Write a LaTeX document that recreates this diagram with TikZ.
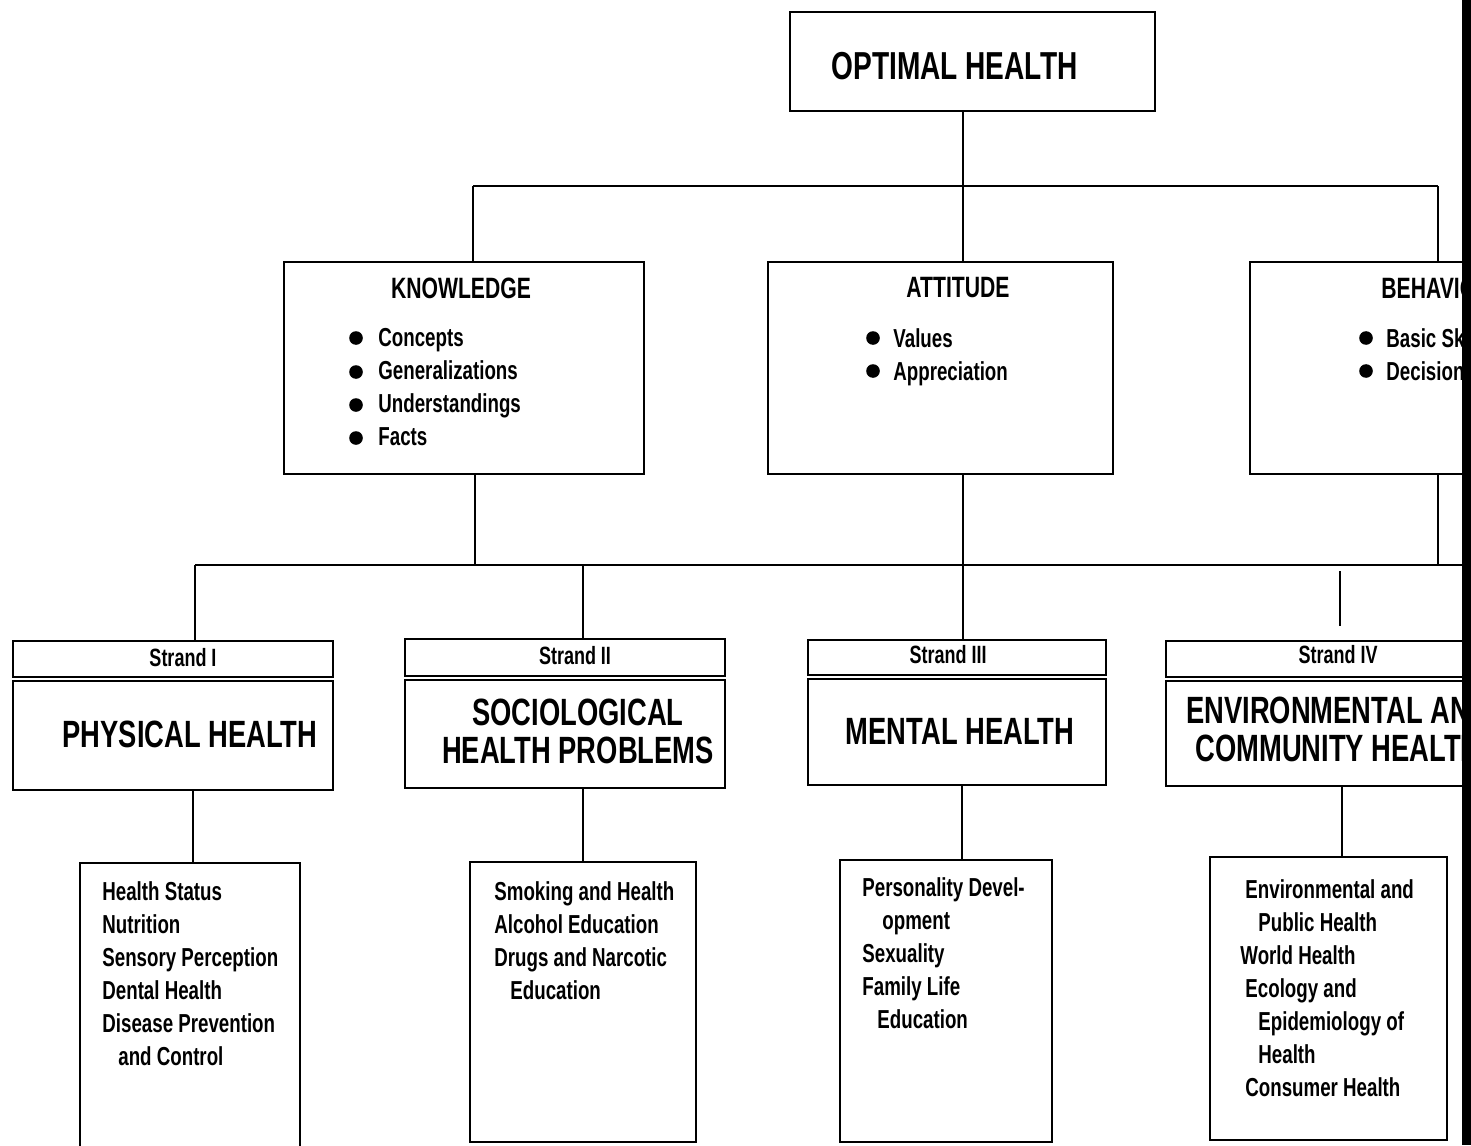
\documentclass[tikz,border=0pt]{standalone}
\usepackage{fontspec}
\setmainfont{Liberation Sans}[FakeStretch=0.72]
\begin{document}
\begin{tikzpicture}[x=0.5pt,y=-0.5pt,
  box/.style={draw, line width=1.4pt, inner sep=0pt},
  link/.style={line width=1.4pt},
  big/.style={inner sep=0pt, align=center, font=\fontsize{19}{19}\selectfont\bfseries},
  head/.style={inner sep=0pt, font=\fontsize{14.7}{16}\selectfont\bfseries},
  tiny/.style={inner sep=0pt, font=\fontsize{12.5}{14}\selectfont\bfseries},
  lst/.style={inner sep=0pt, anchor=north west, align=left, font=\fontsize{13}{16.5}\selectfont\bfseries},
  dot/.style={fill=black}]
\clip (0,0) rectangle (1471,1145);
\fill[white] (0,0) rectangle (1471,1145);
% boxes
\node[box, minimum width=182.5pt, minimum height=49.5pt] (opt) at (972.5,61.5) {};
\node[box, minimum width=180pt, minimum height=106pt] (know) at (464,368) {};
\node[box, minimum width=172.5pt, minimum height=106pt] (att) at (940.5,368) {};
\node[box, minimum width=172.5pt, minimum height=106pt] (beh) at (1422.5,368) {};
\node[box, minimum width=160pt, minimum height=18pt] (s1h) at (173,659) {};
\node[box, minimum width=160pt, minimum height=54.5pt] (s1b) at (173,735.5) {};
\node[box, minimum width=160pt, minimum height=18.5pt] (s2h) at (565,657.5) {};
\node[box, minimum width=160pt, minimum height=54pt] (s2b) at (565,734) {};
\node[box, minimum width=149pt, minimum height=17.5pt] (s3h) at (957,657.5) {};
\node[box, minimum width=149pt, minimum height=53pt] (s3b) at (957,732) {};
\node[box, minimum width=160pt, minimum height=18pt] (s4h) at (1326,659) {};
\node[box, minimum width=160pt, minimum height=52.5pt] (s4b) at (1326,733.5) {};
\node[box, minimum width=110pt, minimum height=148.5pt] (b1) at (190,1011.5) {};
\node[box, minimum width=113pt, minimum height=140pt] (b2) at (583,1002) {};
\node[box, minimum width=106pt, minimum height=141pt] (b3) at (946,1001) {};
\node[box, minimum width=118.5pt, minimum height=141.5pt] (b4) at (1328.5,998.5) {};
% connectors
\coordinate (vT) at (963,186);
\coordinate (vK) at (473,186);
\coordinate (vB) at (1438,186);
\draw[link] (opt.south -| vT) -- (att.north -| vT);
\draw[link] (vK) -- (vB);
\draw[link] (vK) -- (know.north -| vK);
\draw[link] (vB) -- (beh.north -| vB);
\coordinate (wK) at (475,565);
\coordinate (wL) at (195,565);
\coordinate (wR) at (1462,565);
\coordinate (wB) at (1438,565);
\coordinate (w2) at (583,565);
\coordinate (w3) at (963,565);
\draw[link] (know.south -| wK) -- (wK);
\draw[link] (wL) -- (wR);
\draw[link] (wL) -- (s1h.north -| wL);
\draw[link] (w2) -- (s2h.north -| w2);
\draw[link] (att.south -| w3) -- (s3h.north -| w3);
\draw[link] (beh.south -| wB) -- (wB);
\coordinate (w4) at (1340,571);
\coordinate (w4e) at (1340,626);
\draw[link] (w4) -- (w4e);
\coordinate (x1) at (193,0);
\coordinate (x2) at (583,0);
\coordinate (x3) at (962,0);
\coordinate (x4) at (1342,0);
\draw[link] (s1b.south -| x1) -- (b1.north -| x1);
\draw[link] (s2b.south -| x2) -- (b2.north -| x2);
\draw[link] (s3b.south -| x3) -- (b3.north -| x3);
\draw[link] (s4b.south -| x4) -- (b4.north -| x4);
% texts top
\node[inner sep=0pt, font=\fontsize{19.5}{20}\selectfont\bfseries] (topt) at (954.5,66) {OPTIMAL HEALTH};
\node[head] (tknow) at (461,288) {KNOWLEDGE};
\node[head] (tatt) at (958,288) {ATTITUDE};
\node[head, anchor=west] (tbeh) at (1381,288) {BEHAVIOR};
\node[lst] (lknow) at (378,328) {Concepts\\Generalizations\\Understandings\\Facts};
\node[lst] (latt) at (893,328) {Values\\Appreciation};
\node[lst] (lbeh) at (1386,328) {Basic Skills\\Decision Making};
\foreach \yy in {338,372,405,438} \fill[dot] (356,\yy) circle (3.4pt);
\foreach \yy in {338,371} \fill[dot] (873,\yy) circle (3.4pt);
\foreach \yy in {338,371} \fill[dot] (1366,\yy) circle (3.4pt);
% strand texts
\node[tiny] (h1) at (183,658) {Strand I};
\node[tiny] (h2) at (575,656) {Strand II};
\node[tiny] (h3) at (948,655) {Strand III};
\node[tiny] (h4) at (1338,655) {Strand IV};
\node[big] (m1) at (190,734) {PHYSICAL HEALTH};
\node[big] (m2) at (578,731) {SOCIOLOGICAL\\HEALTH PROBLEMS};
\node[big] (m3) at (960,731) {MENTAL HEALTH};
\node[big] (m4) at (1338,729) {ENVIRONMENTAL AND\\COMMUNITY HEALTH};
% lists
\node[lst] (l1) at (102,881) {Health Status\\Nutrition\\Sensory Perception\\Dental Health\\Disease Prevention\\\hspace*{8pt}and Control};
\node[lst] (l2) at (494,881) {Smoking and Health\\Alcohol Education\\Drugs and Narcotic\\\hspace*{8pt}Education};
\node[lst] (l3) at (862,877) {Personality Devel-\\\hspace*{10pt}opment\\Sexuality\\Family Life\\\hspace*{7.5pt}Education};
\node[lst] (l4) at (1245,879) {Environmental and\\\hspace*{6.5pt}Public Health\\\hspace*{-2.5pt}World Health\\Ecology and\\\hspace*{6.5pt}Epidemiology of\\\hspace*{6.5pt}Health\\Consumer Health};
% right edge bar
\fill (1462,0) rectangle (1471,1145);
\end{tikzpicture}
\end{document}
